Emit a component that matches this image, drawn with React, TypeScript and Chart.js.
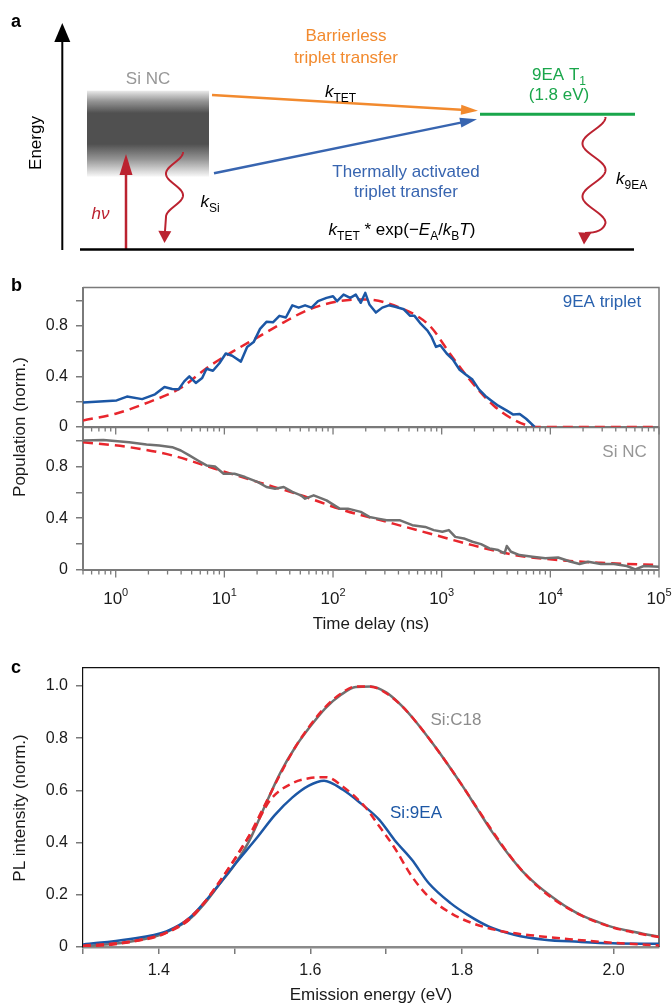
import React, { useEffect, useRef } from 'react';
import { Chart, registerables } from 'chart.js';

Chart.register(...registerables);

// ---------------- Panel b data (time in ns, population normalised) ----------------
const tripletTime = [0.5, 1.02, 1.27, 1.75, 2.3, 2.81, 3.31, 3.79, 4.27, 4.76, 5.46, 6.25, 6.85, 7.85, 9.0, 10.3, 11.8, 14.2, 16.2, 18.6, 21.3, 24.4, 28.0, 32.1, 36.8, 42.2, 48.3, 55.3, 63.4, 72.8, 87.1, 100, 109, 125, 144, 162, 180, 198, 216, 248, 284, 326, 373, 448, 513, 562, 644, 740, 809, 887, 971, 1112, 1276, 1462, 1675, 1919, 2203, 2523, 2891, 3311, 3981, 4560, 5224, 5984, 7178];
const tripletPop = [0.193, 0.21, 0.24, 0.22, 0.258, 0.315, 0.3, 0.297, 0.36, 0.4, 0.348, 0.387, 0.46, 0.444, 0.503, 0.58, 0.562, 0.516, 0.632, 0.67, 0.774, 0.83, 0.826, 0.877, 0.864, 0.96, 0.942, 0.96, 0.942, 0.993, 1.019, 1.032, 0.993, 1.045, 1.019, 1.045, 0.98, 1.058, 0.967, 0.903, 0.942, 0.96, 0.949, 0.929, 0.877, 0.877, 0.813, 0.761, 0.709, 0.632, 0.645, 0.58, 0.529, 0.452, 0.413, 0.374, 0.297, 0.245, 0.206, 0.168, 0.129, 0.098, 0.103, 0.065, 0.0];
const tripletFitTime = [0.5, 1.0, 2.0, 4.0, 6.85, 11.8, 20.4, 35.2, 60.7, 115, 198, 409, 773, 1216, 1919, 3020, 4753, 7480, 100000];
const tripletFitPop = [0.052, 0.105, 0.195, 0.31, 0.464, 0.593, 0.709, 0.826, 0.929, 0.993, 1.006, 0.942, 0.8, 0.568, 0.348, 0.168, 0.052, 0, 0];

const siNcTime = [0.5, 0.77, 1.33, 1.92, 2.52, 3.31, 3.97, 4.76, 5.71, 6.85, 8.2, 9.84, 12.4, 15.5, 20.4, 24.4, 29.3, 35.2, 42.2, 50.6, 55.3, 66.4, 87.1, 115, 137, 180, 216, 259, 311, 409, 537, 706, 845, 1014, 1164, 1334, 1600, 1919, 2301, 2754, 3311, 3793, 3972, 4345, 5212, 6839, 8995, 11776, 15488, 18578, 22284, 29242, 38459, 50466, 60534, 72611, 100000];
const siNcPop = [1.0, 1.005, 0.987, 0.969, 0.962, 0.949, 0.923, 0.885, 0.846, 0.808, 0.8, 0.744, 0.744, 0.718, 0.679, 0.641, 0.628, 0.641, 0.603, 0.577, 0.551, 0.577, 0.538, 0.474, 0.474, 0.449, 0.41, 0.397, 0.385, 0.385, 0.346, 0.333, 0.308, 0.295, 0.308, 0.256, 0.244, 0.218, 0.2, 0.167, 0.154, 0.128, 0.185, 0.141, 0.115, 0.103, 0.09, 0.097, 0.064, 0.046, 0.064, 0.046, 0.046, 0.031, 0.005, 0.031, 0.026];
const siNcFitTime = [0.5, 1.33, 3.31, 8.2, 20.4, 50.6, 125, 311, 773, 1919, 4764, 11803, 29242, 100000];
const siNcFitPop = [0.987, 0.949, 0.885, 0.782, 0.679, 0.577, 0.462, 0.372, 0.282, 0.192, 0.115, 0.077, 0.056, 0.038];

const timeDecades = [1, 10, 100, 1000, 10000, 100000];
const timeDecadeExponents = ['0', '1', '2', '3', '4', '5'];
const populationTicks = [0, 0.2, 0.4, 0.6, 0.8, 1.0];
const populationLabels = [0, 0.4, 0.8];

// ---------------- Panel c data (emission energy in eV, PL normalised) ----------------
const energyC18 = [1.3, 1.34, 1.38, 1.4, 1.42, 1.44, 1.46, 1.48, 1.5, 1.52, 1.54, 1.56, 1.58, 1.6, 1.62, 1.64, 1.66, 1.68, 1.7, 1.72, 1.74, 1.76, 1.78, 1.8, 1.82, 1.84, 1.86, 1.88, 1.9, 1.92, 1.94, 1.96, 1.98, 2.0, 2.02, 2.04, 2.06];
const plC18 = [0.003, 0.012, 0.03, 0.045, 0.07, 0.105, 0.165, 0.24, 0.315, 0.41, 0.54, 0.665, 0.765, 0.845, 0.915, 0.965, 0.996, 0.998, 0.975, 0.925, 0.86, 0.785, 0.705, 0.62, 0.53, 0.44, 0.36, 0.29, 0.235, 0.19, 0.15, 0.118, 0.095, 0.075, 0.062, 0.05, 0.04];
const plC18Fit = [0.002, 0.01, 0.028, 0.042, 0.07, 0.11, 0.17, 0.25, 0.335, 0.43, 0.545, 0.66, 0.765, 0.85, 0.92, 0.97, 0.998, 0.997, 0.972, 0.925, 0.86, 0.785, 0.705, 0.62, 0.532, 0.445, 0.362, 0.29, 0.232, 0.185, 0.148, 0.117, 0.093, 0.074, 0.06, 0.048, 0.038];
const energy9EA = [1.3, 1.36, 1.41, 1.44, 1.47, 1.5, 1.53, 1.553, 1.576, 1.598, 1.618, 1.643, 1.666, 1.691, 1.711, 1.734, 1.756, 1.785, 1.807, 1.835, 1.869, 1.909, 1.954, 1.999, 2.06];
const pl9EA = [0.01, 0.03, 0.06, 0.11, 0.205, 0.315, 0.42, 0.505, 0.572, 0.618, 0.637, 0.602, 0.551, 0.487, 0.41, 0.334, 0.245, 0.168, 0.124, 0.079, 0.047, 0.028, 0.02, 0.014, 0.012];
const energy9EAFit = [1.3, 1.36, 1.41, 1.44, 1.468, 1.491, 1.516, 1.525, 1.547, 1.576, 1.598, 1.621, 1.643, 1.672, 1.689, 1.711, 1.734, 1.756, 1.785, 1.813, 1.85, 1.9, 1.95, 2.0, 2.06];
const pl9EAFit = [0.005, 0.02, 0.055, 0.104, 0.2, 0.296, 0.41, 0.45, 0.563, 0.627, 0.646, 0.65, 0.614, 0.537, 0.47, 0.38, 0.27, 0.193, 0.13, 0.092, 0.062, 0.042, 0.028, 0.016, 0.006];

const energyTicks = [1.3, 1.4, 1.5, 1.6, 1.7, 1.8, 1.9, 2.0];
const energyLabels = [1.4, 1.6, 1.8, 2.0];
const plTicks = [0, 0.2, 0.4, 0.6, 0.8, 1.0];

// ---------------- styling ----------------
const FONT = '"Liberation Sans", Arial, Helvetica, sans-serif';
const TEXT = '#1a1a1a';
const AXIS_GRAY = '#7a7a7a';
const DATA_BLUE = '#1c57a5';
const FIT_RED = '#e8262d';
const DATA_GRAY = '#707070';
const ORANGE = '#f28a2e';
const ARROW_BLUE = '#3865b0';
const GREEN = '#1aa64b';
const DARK_RED = '#bb2230';
const LABEL_GRAY = '#979797';

// ---------------- panel a schematic (diagram geometry) ----------------
const SI_BOX = [87, 90.7, 209, 176.7];
const LEVELS = [
  { from: [80, 249.5], to: [634, 249.5], color: '#000', width: 2.5 },
  { from: [480, 114.3], to: [635, 114.3], color: GREEN, width: 3 },
];
const ARROWS = [
  { from: [62.3, 250], to: [62.3, 23], color: '#000', width: 2, head: 19, half: 8 },
  { from: [126, 249], to: [126, 154], color: DARK_RED, width: 2.5, head: 21, half: 6.5 },
  { from: [212, 95], to: [478, 110.7], color: ORANGE, width: 2.5, head: 17, half: 5 },
  { from: [214, 173.3], to: [477, 119.3], color: ARROW_BLUE, width: 2.5, head: 17, half: 5 },
];
const WAVES = [
  { cx: 174.5, y0: 152, y1: 217, amp: 8.5, period: 43.3, ctrl: null, base: [165, 231], tip: [164.5, 243] },
  { cx: 594, y0: 117, y1: 223, amp: 11.5, period: 53, ctrl: [603, 233], base: [585, 233], tip: [584, 244.5] },
];

type Part = { t: string; i?: boolean; sub?: boolean; b?: boolean };

const DIAGRAM_TEXTS: { parts: Part[]; x: number; y: number; size: number; color: string; align: string }[] = [
  { parts: [{ t: 'a', b: true }], x: 11, y: 27, size: 18, color: '#000', align: 'left' },
  { parts: [{ t: 'Si NC' }], x: 148, y: 84, size: 17, color: LABEL_GRAY, align: 'center' },
  { parts: [{ t: 'Barrierless' }], x: 346, y: 41, size: 17, color: ORANGE, align: 'center' },
  { parts: [{ t: 'triplet transfer' }], x: 346, y: 62.5, size: 17, color: ORANGE, align: 'center' },
  { parts: [{ t: 'k', i: true }, { t: 'TET', sub: true }], x: 325, y: 96.5, size: 17, color: '#000', align: 'left' },
  { parts: [{ t: '9EA T' }, { t: '1', sub: true }], x: 559, y: 80, size: 17, color: GREEN, align: 'center' },
  { parts: [{ t: '(1.8 eV)' }], x: 559, y: 100, size: 17, color: GREEN, align: 'center' },
  { parts: [{ t: 'Thermally activated' }], x: 406, y: 177, size: 17, color: ARROW_BLUE, align: 'center' },
  { parts: [{ t: 'triplet transfer' }], x: 406, y: 197, size: 17, color: ARROW_BLUE, align: 'center' },
  {
    parts: [
      { t: 'k', i: true }, { t: 'TET', sub: true }, { t: ' * exp(\u2212' }, { t: 'E', i: true }, { t: 'A', sub: true },
      { t: '/' }, { t: 'k', i: true }, { t: 'B', sub: true }, { t: 'T', i: true }, { t: ')' },
    ],
    x: 402, y: 235, size: 17, color: '#000', align: 'center',
  },
  { parts: [{ t: 'h\u03bd', i: true }], x: 100.5, y: 219, size: 17, color: DARK_RED, align: 'center' },
  { parts: [{ t: 'k', i: true }, { t: 'Si', sub: true }], x: 200.5, y: 207, size: 17, color: '#000', align: 'left' },
  { parts: [{ t: 'k', i: true }, { t: '9EA', sub: true }], x: 616, y: 184, size: 17, color: '#000', align: 'left' },
];

// ---------------- helpers ----------------
const xy = (xs: number[], ys: number[]) => xs.map((x, i) => ({ x, y: ys[i] }));
const fmt = (v: number) => (v === 0 ? '0' : v.toFixed(1));
const near = (list: number[], v: number) => list.some((u) => Math.abs(u - v) < 1e-6);

const minorTimeTicks: number[] = [];
[0.1, 1, 10, 100, 1000, 10000].forEach((d) => {
  for (let k = 2; k <= 9; k++) {
    const v = k * d;
    if (v >= 0.5 - 1e-9 && v < 100000) minorTimeTicks.push(v);
  }
});

function drawRich(ctx: any, parts: Part[], x: number, y: number, size: number, color: string, align: string) {
  const subSize = Math.round(size * 0.72);
  const font = (p: Part) => `${p.i ? 'italic ' : ''}${p.b ? 'bold ' : ''}${p.sub ? subSize : size}px ${FONT}`;
  const widths = parts.map((p) => {
    ctx.font = font(p);
    return ctx.measureText(p.t).width;
  });
  const total = widths.reduce((a, b) => a + b, 0);
  let cx = align === 'center' ? x - total / 2 : align === 'right' ? x - total : x;
  ctx.save();
  ctx.fillStyle = color;
  ctx.textAlign = 'left';
  ctx.textBaseline = 'alphabetic';
  parts.forEach((p, k) => {
    ctx.font = font(p);
    ctx.fillText(p.t, cx, y + (p.sub ? size * 0.32 : 0));
    cx += widths[k];
  });
  ctx.restore();
}

function drawRotated(ctx: any, text: string, x: number, y: number, size: number, color: string) {
  ctx.save();
  ctx.translate(x, y);
  ctx.rotate(-Math.PI / 2);
  ctx.font = `${size}px ${FONT}`;
  ctx.fillStyle = color;
  ctx.textAlign = 'center';
  ctx.textBaseline = 'alphabetic';
  ctx.fillText(text, 0, 0);
  ctx.restore();
}

function arrowHead(ctx: any, tip: number[], from: number[], head: number, half: number, color: string) {
  const dx = tip[0] - from[0];
  const dy = tip[1] - from[1];
  const len = Math.hypot(dx, dy);
  const ux = dx / len;
  const uy = dy / len;
  const bx = tip[0] - ux * head;
  const by = tip[1] - uy * head;
  ctx.save();
  ctx.fillStyle = color;
  ctx.beginPath();
  ctx.moveTo(tip[0], tip[1]);
  ctx.lineTo(bx - uy * half, by + ux * half);
  ctx.lineTo(bx + uy * half, by - ux * half);
  ctx.closePath();
  ctx.fill();
  ctx.restore();
}

const baseOptions = (padding: any) => ({
  animation: false,
  responsive: false,
  maintainAspectRatio: false,
  events: [],
  layout: { padding },
  plugins: { legend: { display: false }, tooltip: { enabled: false }, title: { display: false } },
});

const lineDs = (data: any[], color: string, dashed: boolean, smooth: boolean) => ({
  data,
  borderColor: color,
  borderWidth: 2.5,
  borderDash: dashed ? [10, 6] : [],
  pointRadius: 0,
  fill: false,
  tension: 0,
  cubicInterpolationMode: smooth ? 'monotone' : 'default',
  borderJoinStyle: 'round',
});

const yAxisB = () => ({
  type: 'linear',
  min: 0,
  max: 1.1,
  afterFit: (s: any) => {
    s.width = 83;
  },
  afterBuildTicks: (s: any) => {
    s.ticks = populationTicks.map((v) => ({ value: v }));
  },
  ticks: {
    autoSkip: false,
    padding: 8,
    color: TEXT,
    font: { size: 16, family: FONT },
    callback: (v: number) => (near(populationLabels, v) ? fmt(v) : ''),
  },
  grid: { drawOnChartArea: false, drawTicks: true, tickLength: 7, color: AXIS_GRAY, lineWidth: 1.5 },
  border: { display: true, color: AXIS_GRAY, width: 2 },
});

// ---------------- panel a ----------------
const B_TOP = 270;
const B_BOT = 410;
const C_TOP = 650;

function buildDiagram() {
  const segs: any[] = [];
  LEVELS.forEach((l) => segs.push({ pts: [l.from, l.to], color: l.color, width: l.width }));
  ARROWS.forEach((a) => {
    const dx = a.to[0] - a.from[0];
    const dy = a.to[1] - a.from[1];
    const len = Math.hypot(dx, dy);
    const end = [a.to[0] - (dx / len) * a.head * 0.75, a.to[1] - (dy / len) * a.head * 0.75];
    segs.push({ pts: [a.from, end], color: a.color, width: a.width });
  });
  const plugin = {
    id: 'diagram',
    beforeDatasetsDraw(chart: any) {
      const { ctx } = chart;
      const X = (v: number) => chart.scales.x.getPixelForValue(v);
      const Y = (v: number) => chart.scales.y.getPixelForValue(v);
      const [x0, y0, x1, y1] = SI_BOX;
      const g = ctx.createLinearGradient(0, Y(y0), 0, Y(y1));
      g.addColorStop(0, 'rgba(80,80,80,0.12)');
      g.addColorStop(0.12, 'rgba(80,80,80,0.6)');
      g.addColorStop(0.26, 'rgba(80,80,80,1)');
      g.addColorStop(0.62, 'rgba(80,80,80,1)');
      g.addColorStop(0.8, 'rgba(80,80,80,0.6)');
      g.addColorStop(1, 'rgba(80,80,80,0.04)');
      ctx.save();
      ctx.fillStyle = g;
      ctx.fillRect(X(x0), Y(y0), X(x1) - X(x0), Y(y1) - Y(y0));
      ctx.restore();
    },
    afterDatasetsDraw(chart: any) {
      const { ctx } = chart;
      const X = (v: number) => chart.scales.x.getPixelForValue(v);
      const Y = (v: number) => chart.scales.y.getPixelForValue(v);
      ARROWS.forEach((a) => arrowHead(ctx, [X(a.to[0]), Y(a.to[1])], [X(a.from[0]), Y(a.from[1])], a.head, a.half, a.color));
      WAVES.forEach((w) => {
        ctx.save();
        ctx.strokeStyle = DARK_RED;
        ctx.lineWidth = 2;
        ctx.lineJoin = 'round';
        ctx.beginPath();
        for (let y = w.y0; y <= w.y1 + 0.01; y += 0.5) {
          const x = w.cx + w.amp * Math.cos((2 * Math.PI * (y - w.y0)) / w.period);
          if (y === w.y0) ctx.moveTo(X(x), Y(y));
          else ctx.lineTo(X(x), Y(y));
        }
        if (w.ctrl) ctx.quadraticCurveTo(X(w.ctrl[0]), Y(w.ctrl[1]), X(w.base[0]), Y(w.base[1]));
        else ctx.lineTo(X(w.base[0]), Y(w.base[1]));
        ctx.stroke();
        ctx.restore();
        arrowHead(ctx, [X(w.tip[0]), Y(w.tip[1])], [X(w.base[0]), Y(w.base[1]) - 6], 12, 6.5, DARK_RED);
      });
      DIAGRAM_TEXTS.forEach((t) => drawRich(ctx, t.parts, X(t.x), Y(t.y), t.size, t.color, t.align));
      drawRotated(ctx, 'Energy', X(41), Y(143), 17, '#000');
    },
  };
  return {
    type: 'line',
    data: {
      datasets: segs.map((s) => ({
        data: s.pts.map((p: number[]) => ({ x: p[0], y: p[1] })),
        borderColor: s.color,
        borderWidth: s.width,
        pointRadius: 0,
        fill: false,
        tension: 0,
        clip: false,
        borderCapStyle: 'butt',
      })),
    },
    options: {
      ...baseOptions({ top: 0, right: 0, bottom: 0, left: 0 }),
      scales: {
        x: { type: 'linear', min: 0, max: 672, display: false },
        y: { type: 'linear', min: 0, max: 262, reverse: true, display: false },
      },
    },
    plugins: [plugin],
  };
}

// ---------------- panel b ----------------
function timeAxisPlugin(kind: string, canvasTop: number) {
  return {
    id: 'timeAxis' + kind,
    beforeDatasetsDraw(chart: any) {
      const { ctx, chartArea: a } = chart;
      const xs = chart.scales.x;
      ctx.save();
      ctx.strokeStyle = AXIS_GRAY;
      ctx.lineWidth = 1.5;
      ctx.beginPath();
      ctx.moveTo(a.left, a.top);
      ctx.lineTo(a.right, a.top);
      ctx.lineTo(a.right, a.bottom);
      ctx.stroke();
      ctx.lineWidth = 2;
      ctx.beginPath();
      ctx.moveTo(a.left - 1, a.bottom);
      ctx.lineTo(a.right, a.bottom);
      ctx.stroke();
      ctx.lineWidth = 1.3;
      ctx.beginPath();
      timeDecades.forEach((v) => {
        const p = xs.getPixelForValue(v);
        ctx.moveTo(p, a.bottom);
        ctx.lineTo(p, a.bottom + 7.5);
      });
      minorTimeTicks.forEach((v) => {
        const p = xs.getPixelForValue(v);
        ctx.moveTo(p, a.bottom);
        ctx.lineTo(p, a.bottom + 4.5);
      });
      ctx.stroke();
      ctx.restore();
    },
    afterDraw(chart: any) {
      const { ctx } = chart;
      const xs = chart.scales.x;
      const Y = (pageY: number) => pageY - canvasTop;
      if (kind === 'top') {
        drawRich(ctx, [{ t: 'b', b: true }], 11, Y(291), 18, '#000', 'left');
        drawRich(ctx, [{ t: '9EA triplet' }], 602, Y(307), 17, '#2a62ae', 'center');
        drawRotated(ctx, 'Population (norm.)', 25, Y(427), 17, TEXT);
      } else {
        drawRich(ctx, [{ t: 'Si NC' }], 624.5, Y(457), 17, LABEL_GRAY, 'center');
        ctx.save();
        ctx.fillStyle = TEXT;
        ctx.textBaseline = 'alphabetic';
        ctx.textAlign = 'left';
        timeDecades.forEach((v, k) => {
          const p = xs.getPixelForValue(v);
          ctx.font = `17px ${FONT}`;
          const w1 = ctx.measureText('10').width;
          ctx.font = `11px ${FONT}`;
          const w2 = ctx.measureText(timeDecadeExponents[k]).width;
          const start = p - (w1 + w2) / 2;
          ctx.font = `17px ${FONT}`;
          ctx.fillText('10', start, Y(604));
          ctx.font = `11px ${FONT}`;
          ctx.fillText(timeDecadeExponents[k], start + w1, Y(596));
        });
        ctx.restore();
        drawRich(ctx, [{ t: 'Time delay (ns)' }], 371, Y(629), 17, TEXT, 'center');
      }
    },
  };
}

function buildTriplet() {
  return {
    type: 'line',
    data: {
      datasets: [
        lineDs(xy(tripletTime, tripletPop), DATA_BLUE, false, false),
        lineDs(xy(tripletFitTime, tripletFitPop), FIT_RED, true, true),
      ],
    },
    options: {
      ...baseOptions({ top: 14, right: 13, bottom: 73, left: 0 }),
      scales: {
        x: { type: 'logarithmic', min: 0.5, max: 100000, display: false },
        y: yAxisB(),
      },
    },
    plugins: [timeAxisPlugin('top', B_TOP)],
  };
}

function buildSiNc() {
  return {
    type: 'line',
    data: {
      datasets: [
        lineDs(xy(siNcTime, siNcPop), DATA_GRAY, false, false),
        lineDs(xy(siNcFitTime, siNcFitPop), FIT_RED, true, true),
      ],
    },
    options: {
      ...baseOptions({ top: 17, right: 13, bottom: 65, left: 0 }),
      scales: {
        x: { type: 'logarithmic', min: 0.5, max: 100000, display: false },
        y: yAxisB(),
      },
    },
    plugins: [timeAxisPlugin('bottom', B_BOT)],
  };
}

// ---------------- panel c ----------------
function buildPL() {
  const plugin = {
    id: 'plFrame',
    beforeDatasetsDraw(chart: any) {
      const { ctx, chartArea: a } = chart;
      ctx.save();
      ctx.strokeStyle = '#111';
      ctx.lineWidth = 1.2;
      ctx.beginPath();
      ctx.moveTo(a.left, a.top);
      ctx.lineTo(a.right, a.top);
      ctx.lineTo(a.right, a.bottom);
      ctx.stroke();
      ctx.restore();
    },
    afterDraw(chart: any) {
      const { ctx } = chart;
      const xs = chart.scales.x;
      const Y = (pageY: number) => pageY - C_TOP;
      drawRich(ctx, [{ t: 'c', b: true }], 11, Y(673), 18, '#000', 'left');
      drawRich(ctx, [{ t: 'Si:C18' }], 456, Y(725), 17, '#8c8c8c', 'center');
      drawRich(ctx, [{ t: 'Si:9EA' }], 416, Y(818), 17, DATA_BLUE, 'center');
      energyLabels.forEach((v) => {
        drawRich(ctx, [{ t: v.toFixed(1) }], xs.getPixelForValue(v), Y(975), 16, TEXT, 'center');
      });
      drawRich(ctx, [{ t: 'Emission energy (eV)' }], 371, Y(1000), 17, TEXT, 'center');
      drawRotated(ctx, 'PL intensity (norm.)', 25, Y(808), 17, TEXT);
    },
  };
  const red = (d: any[]) => ({ ...lineDs(d, FIT_RED, true, true), borderDash: [8, 5] });
  return {
    type: 'line',
    data: {
      datasets: [
        red(xy(energyC18, plC18Fit)),
        red(xy(energy9EAFit, pl9EAFit)),
        lineDs(xy(energy9EA, pl9EA), DATA_BLUE, false, true),
        lineDs(xy(energyC18, plC18), DATA_GRAY, false, true),
      ],
    },
    options: {
      ...baseOptions({ top: 17, right: 13, bottom: 0, left: 0 }),
      scales: {
        x: {
          type: 'linear',
          min: 1.3,
          max: 2.06,
          afterFit: (s: any) => {
            s.height = 58;
          },
          afterBuildTicks: (s: any) => {
            s.ticks = energyTicks.map((v) => ({ value: v }));
          },
          ticks: { display: false, autoSkip: false },
          grid: { drawOnChartArea: false, drawTicks: true, tickLength: 7, color: AXIS_GRAY, lineWidth: 1.5 },
          border: { display: true, color: '#8a8a8a', width: 2.5 },
        },
        y: {
          type: 'linear',
          min: 0,
          max: 1.07,
          afterFit: (s: any) => {
            s.width = 83;
          },
          afterBuildTicks: (s: any) => {
            s.ticks = plTicks.map((v) => ({ value: v }));
          },
          ticks: { autoSkip: false, padding: 8, color: TEXT, font: { size: 16, family: FONT }, callback: (v: number) => fmt(v) },
          grid: { drawOnChartArea: false, drawTicks: true, tickLength: 7, color: AXIS_GRAY, lineWidth: 1.5 },
          border: { display: true, color: '#111', width: 1.2 },
        },
      },
    },
    plugins: [plugin],
  };
}

// ---------------- React ----------------
function ChartCanvas({ top, height, build }: { top: number; height: number; build: () => any }) {
  const ref = useRef<HTMLCanvasElement>(null);
  useEffect(() => {
    const chart = new Chart(ref.current as HTMLCanvasElement, build());
    return () => chart.destroy();
  }, []);
  return (
    <canvas
      ref={ref}
      width={672}
      height={height}
      style={{ position: 'absolute', left: 0, top, width: 672, height, display: 'block' }}
    />
  );
}

export default function App() {
  return (
    <div style={{ position: 'absolute', left: 0, top: 0, width: 672, height: 1005, background: '#fff', overflow: 'hidden' }}>
      <ChartCanvas top={0} height={262} build={buildDiagram} />
      <ChartCanvas top={B_TOP} height={230} build={buildTriplet} />
      <ChartCanvas top={B_BOT} height={225} build={buildSiNc} />
      <ChartCanvas top={C_TOP} height={355} build={buildPL} />
    </div>
  );
}
